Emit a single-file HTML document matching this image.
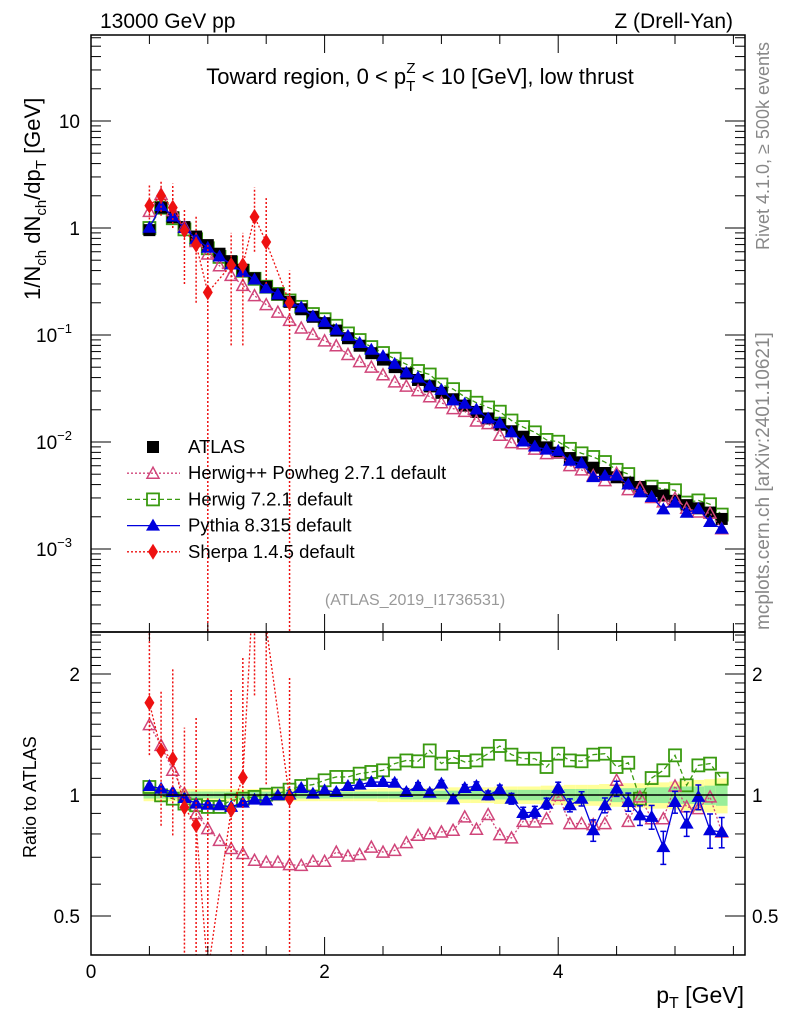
<!DOCTYPE html>
<html><head><meta charset="utf-8"><style>
html,body{margin:0;padding:0;background:#fff;width:786px;height:1024px;overflow:hidden;}
svg{display:block;font-family:"Liberation Sans",sans-serif;}
</style></head><body>
<svg id="chart" width="786" height="1024" viewBox="0 0 786 1024" xmlns="http://www.w3.org/2000/svg">
<defs>
<clipPath id="cm"><rect x="91" y="35" width="654" height="597"/></clipPath>
<clipPath id="cr"><rect x="91" y="632" width="654" height="323"/></clipPath>
</defs>
<g id="bands" clip-path="url(#cr)"></g>
<g id="marks"></g>
<g id="axes"></g>
<text x="100" y="28" font-size="21">13000 GeV pp</text>
<text x="733" y="28" font-size="21" text-anchor="end">Z (Drell-Yan)</text>
<text x="420" y="84" font-size="22" text-anchor="middle">Toward region, 0 &lt; p<tspan font-size="15" dy="7">T</tspan><tspan font-size="15" dx="-9" dy="-18">Z</tspan><tspan dy="11"> &lt; 10 [GeV], low thrust</tspan></text>
<text transform="translate(40,300) rotate(-90)" font-size="22" text-anchor="start">1/N<tspan font-size="15" dy="6">ch</tspan><tspan dy="-6"> dN</tspan><tspan font-size="15" dy="6">ch</tspan><tspan dy="-6">/dp</tspan><tspan font-size="15" dy="6">T</tspan><tspan dy="-6"> [GeV]</tspan></text>
<text transform="translate(769,250) rotate(-90)" font-size="18" fill="#888">Rivet 4.1.0, ≥ 500k events</text>
<text transform="translate(769,630) rotate(-90)" font-size="19" fill="#888">mcplots.cern.ch [arXiv:2401.10621]</text>
<text x="415" y="605" font-size="16" fill="#999" text-anchor="middle">(ATLAS_2019_I1736531)</text>
<text transform="translate(36,858) rotate(-90)" font-size="18">Ratio to ATLAS</text>
<text x="744" y="1003" font-size="23" text-anchor="end">p<tspan font-size="16" dy="5">T</tspan><tspan dy="-5"> [GeV]</tspan></text>
<g id="legend"></g>
</svg>
<script>
// ---- data ----
const pT=[0.5,0.6,0.7,0.8,0.9,1.0,1.1,1.2,1.3,1.4,1.5,1.6,1.7,1.8,1.9,2.0,2.1,2.2,2.3,2.4,2.5,2.6,2.7,2.8,2.9,3.0,3.1,3.2,3.3,3.4,3.5,3.6,3.7,3.8,3.9,4.0,4.1,4.2,4.3,4.4,4.5,4.6,4.7,4.8,4.9,5.0,5.1,5.2,5.3,5.4];
const atlas=[0.955,1.55,1.26,1.02,0.832,0.692,0.575,0.490,0.407,0.339,0.282,0.240,0.204,0.174,0.148,0.129,0.110,0.0933,0.0794,0.0676,0.0589,0.0501,0.0437,0.0380,0.0331,0.0288,0.0251,0.0219,0.0191,0.0166,0.0145,0.0126,0.0112,0.0100,0.00891,0.00794,0.00708,0.00646,0.00575,0.00513,0.00468,0.00417,0.00380,0.00347,0.00316,0.00282,0.00257,0.00240,0.00219,0.00191];
const bandInner=[0.02,0.02,0.02,0.02,0.02,0.02,0.02,0.02,0.02,0.02,0.02,0.02,0.02,0.02,0.02,0.02,0.02,0.02,0.02,0.02,0.02,0.02,0.025,0.025,0.025,0.025,0.025,0.025,0.025,0.025,0.025,0.03,0.03,0.03,0.03,0.03,0.035,0.035,0.035,0.035,0.04,0.04,0.04,0.045,0.045,0.05,0.05,0.05,0.055,0.06];
const bandOuter=[0.035,0.035,0.035,0.035,0.035,0.035,0.035,0.035,0.035,0.035,0.035,0.035,0.035,0.035,0.035,0.035,0.035,0.035,0.035,0.035,0.04,0.04,0.04,0.04,0.04,0.04,0.045,0.045,0.045,0.045,0.05,0.05,0.05,0.05,0.055,0.055,0.06,0.06,0.06,0.065,0.065,0.07,0.07,0.075,0.075,0.08,0.085,0.09,0.095,0.1];
const herwigPPRatio=[1.496,1.329,1.152,1.008,0.899,0.825,0.771,0.736,0.715,0.688,0.681,0.681,0.671,0.668,0.684,0.684,0.721,0.705,0.711,0.742,0.721,0.728,0.761,0.794,0.801,0.809,0.817,0.882,0.822,0.894,0.797,0.782,0.860,0.857,0.873,0.998,0.849,0.849,0.844,0.849,1.088,0.860,0.989,0.873,0.873,1.053,0.934,0.925,0.989,0.809];
const herwig7Ratio=[1.047,0.998,0.979,0.952,0.943,0.934,0.934,0.970,0.979,0.989,1.002,1.008,1.031,1.053,1.061,1.088,1.109,1.109,1.130,1.141,1.152,1.197,1.219,1.213,1.291,1.197,1.243,1.208,1.219,1.267,1.324,1.260,1.231,1.231,1.174,1.267,1.219,1.213,1.260,1.267,1.174,1.203,0.979,1.102,1.152,1.255,1.057,1.185,1.197,1.098];
const pythiaRatio=[1.053,1.037,1.017,0.983,0.952,0.946,0.943,0.934,0.957,0.974,0.970,0.998,1.002,1.041,1.008,1.027,1.017,1.053,1.061,1.077,1.077,1.073,1.017,1.053,1.013,1.067,0.975,1.041,1.053,0.998,1.033,0.979,0.902,0.907,0.952,1.041,0.943,0.979,0.817,0.943,1.037,0.961,0.890,0.882,0.742,0.961,0.849,0.989,0.817,0.809];
const pythiaErr=[0.01,0.01,0.01,0.01,0.01,0.01,0.01,0.01,0.01,0.01,0.01,0.01,0.01,0.015,0.015,0.015,0.015,0.015,0.015,0.015,0.015,0.02,0.02,0.02,0.02,0.02,0.02,0.02,0.025,0.025,0.025,0.03,0.03,0.03,0.03,0.035,0.035,0.04,0.05,0.04,0.045,0.05,0.05,0.06,0.07,0.06,0.06,0.07,0.08,0.07];
const sherpaPT=[0.5,0.6,0.7,0.8,0.9,1.0,1.2,1.3,1.4,1.5,1.7];
const sherpaVal=[1.62,2.0,1.55,0.95,0.70,0.25,0.45,0.45,1.27,0.74,0.20];
const sherpaLo=[1.2,1.3,1.0,0.3,0.2,0.00001,0.08,0.08,0.6,0.3,0.00001];
const sherpaHi=[2.6,2.8,2.6,1.5,1.3,0.7,0.9,0.9,2.4,1.9,0.4];
const sherpaAtlas=[0.955,1.55,1.26,1.02,0.832,0.692,0.490,0.407,0.339,0.282,0.204];

// ---- axes ----
const X0=91,X1=745,MT=35,MB=632,RB=955;
const clampY=y=>Math.max(0,Math.min(1024,y));
const xS=v=>X0+v*116.8;
const yM=v=>clampY(228-107*Math.log10(v));
const yR=v=>clampY(795-121*Math.log2(v));
const NS="http://www.w3.org/2000/svg";
function mk(tag,attrs,parent){const e=document.createElementNS(NS,tag);for(const k in attrs)e.setAttribute(k,attrs[k]);parent.appendChild(e);return e;}
const axes=document.getElementById('axes'),marks=document.getElementById('marks'),bands=document.getElementById('bands');

let f1=mk('rect',{x:X0,y:MT,width:X1-X0,height:MB-MT,fill:'none',stroke:'#000','stroke-width':1.5},axes);


let f2=mk('rect',{x:X0,y:MB,width:X1-X0,height:RB-MB,fill:'none',stroke:'#000','stroke-width':1.5},axes);


for(let v=0;v<=5.5;v+=0.5){const x=xS(v),L=(v%2===0)?18:9;
 [[MT,1],[MB,-1],[MB,1],[RB,-1]].forEach(([y,d])=>mk('line',{x1:x,x2:x,y1:y,y2:y+d*L,stroke:'#000','stroke-width':1},axes));}
[0,2,4].forEach(v=>{const t=mk('text',{x:xS(v),y:978,'font-size':19,'text-anchor':'middle'},axes);t.textContent=v;
 
 });
for(let e=-4;e<=1;e++){for(let m=1;m<10;m++){const v=m*Math.pow(10,e),y=228-107*Math.log10(v);if(y<MT||y>MB)continue;const L=m===1?20:10;
 mk('line',{x1:X0,x2:X0+L,y1:y,y2:y,stroke:'#000'},axes);mk('line',{x1:X1,x2:X1-L,y1:y,y2:y,stroke:'#000'},axes);}}
const yLabs=[[10,'10',null],[1,'1',null],[0.1,'10','−1'],[0.01,'10','−2'],[0.001,'10','−3']];
yLabs.forEach(([v,b,ex])=>{const t=mk('text',{x:ex?72:80,y:yM(v)+7,'font-size':19,'text-anchor':'end'},axes);t.textContent=b;
 
 
 if(ex){const s=mk('tspan',{'font-size':13,dy:-9},t);s.textContent=ex;}});
[0.4,0.5,0.6,0.7,0.8,0.9,1,1.1,1.2,1.3,1.4,1.5,1.6,1.7,1.8,1.9,2,2.1,2.2,2.3,2.4,2.5].forEach(v=>{const y=yR(v);if(y<MB||y>RB)return;const L=(v===0.5||v===1||v===2)?20:10;
 mk('line',{x1:X0,x2:X0+L,y1:y,y2:y,stroke:'#000'},axes);mk('line',{x1:X1,x2:X1-L,y1:y,y2:y,stroke:'#000'},axes);});
[[2,'2'],[1,'1'],[0.5,'0.5']].forEach(([v,s])=>{[[80,'end'],[752,'start']].forEach(([x,a])=>{const t=mk('text',{x:x,y:yR(v)+7,'font-size':19,'text-anchor':a},axes);t.textContent=s;
 
 });});

pT.forEach((p,i)=>{const xa=xS(p-0.05),xb=xS(p+0.05);
 mk('rect',{x:xa,y:yR(1+bandOuter[i]),width:xb-xa,height:yR(1-bandOuter[i])-yR(1+bandOuter[i]),fill:'#ffff99'},bands);
 mk('rect',{x:xa,y:yR(1+bandInner[i]),width:xb-xa,height:yR(1-bandInner[i])-yR(1+bandInner[i]),fill:'#99ee99'},bands);});
const ref=mk('line',{x1:X0,x2:X1,y1:yR(1),y2:yR(1),stroke:'#000','stroke-width':1.5},axes);



function marker(g,type,x,y,col){
 if(type==='sq')mk('rect',{x:x-6,y:y-6,width:12,height:12,fill:'#000'},g);
 else if(type==='osq')mk('rect',{x:x-6,y:y-6,width:12,height:12,fill:'none',stroke:col,'stroke-width':1.8},g);
 else if(type==='otri')mk('polygon',{points:`${x},${y-6} ${x-6},${y+5} ${x+6},${y+5}`,fill:'none',stroke:col,'stroke-width':1.5},g);
 else if(type==='tri')mk('polygon',{points:`${x},${y-7} ${x-7},${y+5} ${x+7},${y+5}`,fill:col},g);
 else if(type==='dia')mk('polygon',{points:`${x},${y-8} ${x-5},${y} ${x},${y+8} ${x+5},${y}`,fill:col},g);}
function series(name,xs,ys,yf,type,col,dash,clip,errLo,errHi){
 const g=mk('g',{'clip-path':`url(#${clip})`},marks);
 
 
 if(errLo)xs.forEach((p,i)=>{mk('line',{x1:xS(p),x2:xS(p),y1:yf(errLo[i]),y2:yf(errHi[i]),stroke:col,'stroke-width':1.5,'stroke-dasharray':dash||''},g);
  if(type==='tri'){mk('line',{x1:xS(p)-3,x2:xS(p)+3,y1:yf(errLo[i]),y2:yf(errLo[i]),stroke:col,'stroke-width':1.5},g);mk('line',{x1:xS(p)-3,x2:xS(p)+3,y1:yf(errHi[i]),y2:yf(errHi[i]),stroke:col,'stroke-width':1.5},g);}});
 if(dash!==null)mk('polyline',{points:xs.map((p,i)=>xS(p)+','+yf(ys[i])).join(' '),fill:'none',stroke:col,'stroke-width':1.3,'stroke-dasharray':dash},g);
 xs.forEach((p,i)=>marker(g,type,xS(p),yf(ys[i]),col));}
const pink='#d0457a',green='#3a9a10',blue='#0000dd',red='#ee1111';
const hpp=pT.map((p,i)=>atlas[i]*herwigPPRatio[i]),h7=pT.map((p,i)=>atlas[i]*herwig7Ratio[i]),py=pT.map((p,i)=>atlas[i]*pythiaRatio[i]);
series('herwig7-main',pT,h7,yM,'osq',green,'5,3','cm');
series('atlas-data',pT,atlas,yM,'sq','#000',null,'cm');
series('herwigpp-main',pT,hpp,yM,'otri',pink,'2,2','cm');
series('pythia-main',pT,py,yM,'tri',blue,'','cm');
series('sherpa-main',sherpaPT,sherpaVal,yM,'dia',red,'2,2','cm',sherpaLo,sherpaHi);
series('herwig7-ratio',pT,herwig7Ratio,yR,'osq',green,'5,3','cr');
series('herwigpp-ratio',pT,herwigPPRatio,yR,'otri',pink,'2,2','cr');
series('pythia-ratio',pT,pythiaRatio,yR,'tri',blue,'','cr',pythiaRatio.map((r,i)=>r-pythiaErr[i]),pythiaRatio.map((r,i)=>r+pythiaErr[i]));
series('sherpa-ratio',sherpaPT,sherpaVal.map((v,i)=>v/sherpaAtlas[i]),yR,'dia',red,'2,2','cr',sherpaLo.map((v,i)=>v/sherpaAtlas[i]),sherpaHi.map((v,i)=>v/sherpaAtlas[i]));

const leg=document.getElementById('legend');
const legItems=[['ATLAS','sq','#000',null],['Herwig++ Powheg 2.7.1 default','otri',pink,'2,2'],['Herwig 7.2.1 default','osq',green,'5,3'],['Pythia 8.315 default','tri',blue,''],['Sherpa 1.4.5 default','dia',red,'2,2']];
legItems.forEach(([lab,type,col,dash],i)=>{const y=447+i*26.2;
 const g=mk('g',{},leg);
 
 
 if(dash!==null)mk('line',{x1:127,x2:180,y1:y,y2:y,stroke:col,'stroke-width':1.3,'stroke-dasharray':dash},g);
 marker(g,type,153,y,col);
 const t=mk('text',{x:188,y:y+6,'font-size':18.5},g);t.textContent=lab;});
</script>
</body></html>
